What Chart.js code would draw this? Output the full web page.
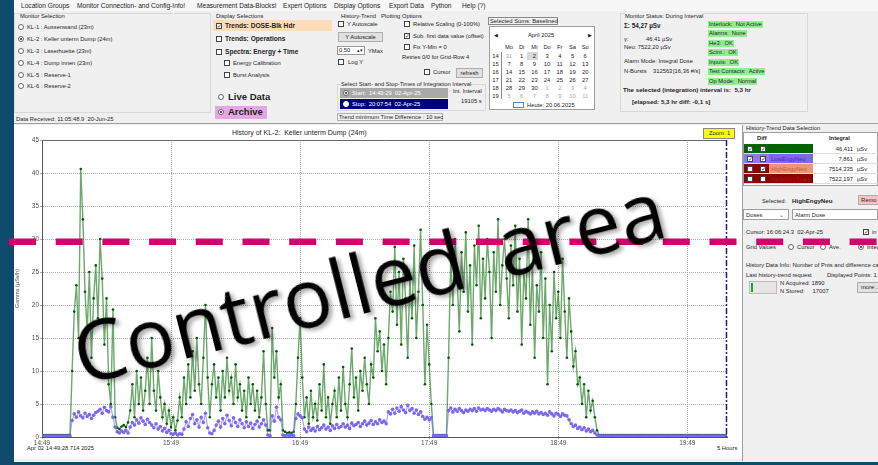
<!DOCTYPE html>
<html>
<head>
<meta charset="utf-8">
<script src="https://cdn.jsdelivr.net/npm/chart.js@4.4.1/dist/chart.umd.min.js"></script>
<style>
*{box-sizing:border-box}
body{margin:0;width:878px;height:465px;overflow:hidden;background:#0e4a6c;font-family:"Liberation Sans",Arial,sans-serif;color:#1e1e1e;position:relative}
.box{position:absolute}
.t{position:absolute;white-space:nowrap;font-size:5.8px;line-height:8px}
.m{font-size:6.6px}
.b{font-weight:bold}
.grp{position:absolute;border:1px solid #d8d8d8}
.cb{position:absolute;width:6px;height:6px;border:1px solid #444;background:#fff}
.cb.on::after{content:"\2713";position:absolute;left:0;top:-2px;font-size:6px;line-height:8px;color:#333}
.rb{position:absolute;width:6px;height:6px;border:1px solid #666;border-radius:50%;background:#fff}
.rb.on::after{content:"";position:absolute;left:1px;top:1px;width:2px;height:2px;border-radius:50%;background:#222}
.btn{position:absolute;border:1px solid #adadad;background:#e1e1e1;font-size:5.8px;text-align:center;white-space:nowrap}
.gb{position:absolute;background:#90ee90;font-size:5.8px;line-height:7px;height:7px;padding:0 1px;white-space:nowrap}
.cal{position:absolute;font-size:5.8px;line-height:8px;width:12px;text-align:center}
.gray{color:#a8a8a8}
#chart{position:absolute;left:0;top:0;z-index:2;pointer-events:none}
#stamp{position:absolute;z-index:3;font-family:"Open Sans",sans-serif;font-size:82px;line-height:82px;word-spacing:14px;color:#000;white-space:nowrap;text-shadow:3px 3px 4px rgba(0,0,0,0.35);transform-origin:0 73px;transform:rotate(-14.2deg)}
</style>
</head>
<body>
<!-- window frame -->
<div class="box" style="left:14px;top:0;width:864px;height:462px;background:#f0f0f0"></div>
<div class="box" style="left:14px;top:0;width:864px;height:11px;background:#f7f7f7"></div>
<div class="box" style="left:14px;top:123px;width:864px;height:1px;background:#a0a0a0"></div>

<!-- menu -->
<div class="t m" style="left:21px;top:2px">Location Groups</div>
<div class="t m" style="left:77px;top:2px">Monitor Connection- and Config-Info!</div>
<div class="t m" style="left:197px;top:2px">Measurement Data-Blocks!</div>
<div class="t m" style="left:283px;top:2px">Expert Options</div>
<div class="t m" style="left:334px;top:2px">Display Options</div>
<div class="t m" style="left:389px;top:2px">Export Data</div>
<div class="t m" style="left:431px;top:2px">Python</div>
<div class="t m" style="left:462px;top:2px">Help (?)</div>

<!-- monitor selection -->
<div class="grp" style="left:14px;top:13px;width:197px;height:100px"></div>
<div class="t" style="left:20px;top:12px">Monitor Selection</div>
<div class="rb" style="left:18px;top:24px"></div><div class="t" style="left:27px;top:23px">KL-1 : Aussenwand (23m)</div>
<div class="rb on" style="left:18px;top:36px"></div><div class="t" style="left:27px;top:35px">KL-2 : Keller unterm Dump (24m)</div>
<div class="rb" style="left:18px;top:48px"></div><div class="t" style="left:27px;top:47px">KL-3 : Laserhuette (23m)</div>
<div class="rb" style="left:18px;top:60px"></div><div class="t" style="left:27px;top:59px">KL-4 : Dump innen (23m)</div>
<div class="rb" style="left:18px;top:72px"></div><div class="t" style="left:27px;top:71px">KL-5 : Reserve-1</div>
<div class="rb" style="left:18px;top:83px"></div><div class="t" style="left:27px;top:82px">KL-6 : Reserve-2</div>
<div class="t" style="left:16px;top:115px">Data Received: 11:05:48.9&nbsp; 20-Jun-25</div>

<!-- display selections -->
<div class="t" style="left:216px;top:12px">Display Selections</div>
<div class="box" style="left:213px;top:20px;width:119px;height:11px;background:#fddcb8"></div>
<div class="cb on" style="left:216px;top:23px"></div><div class="t b" style="left:225px;top:22px;font-size:6.6px">Trends: DOSE-Blk Hdr</div>
<div class="cb" style="left:216px;top:36px"></div><div class="t b" style="left:225px;top:35px;font-size:6.6px">Trends: Operations</div>
<div class="cb" style="left:216px;top:49px"></div><div class="t b" style="left:225px;top:48px;font-size:6.6px">Spectra: Energy + Time</div>
<div class="cb" style="left:224px;top:60px"></div><div class="t" style="left:233px;top:59px">Energy Calibration</div>
<div class="cb" style="left:224px;top:72px"></div><div class="t" style="left:233px;top:71px">Burst Analysis</div>
<div class="rb" style="left:218px;top:94px"></div><div class="t b" style="left:228px;top:92px;font-size:9.5px;line-height:10px">Live Data</div>
<div class="box" style="left:215px;top:106px;width:52px;height:13px;background:#e4a6e4"></div>
<div class="rb on" style="left:218px;top:109px"></div><div class="t b" style="left:228px;top:107px;font-size:9.5px;line-height:10px">Archive</div>

<!-- history-trend plotting options -->
<div class="t" style="left:341px;top:12px">History-Trend</div>
<div class="t" style="left:381px;top:12px">Plotting Options</div>
<div class="cb" style="left:338px;top:21px"></div><div class="t" style="left:347px;top:20px">Y Autoscale</div>
<div class="btn" style="left:338px;top:32px;width:45px;height:10px;line-height:8px">Y Autoscale</div>
<div class="box" style="left:337px;top:46px;width:28px;height:9px;background:#fff;border:1px solid #999"></div>
<div class="t" style="left:339px;top:46px">0,50</div>
<div class="t" style="left:357px;top:46px;font-size:5px">&#9652;&#9662;</div>
<div class="t" style="left:368px;top:47px">YMax</div>
<div class="cb" style="left:338px;top:59px"></div><div class="t" style="left:348px;top:58px">Log Y</div>
<div class="cb" style="left:404px;top:21px"></div><div class="t" style="left:413px;top:20px">Relative Scaling (0-100%)</div>
<div class="cb on" style="left:404px;top:33px"></div><div class="t" style="left:413px;top:32px">Sub. first data value (offset)</div>
<div class="cb" style="left:404px;top:44px"></div><div class="t" style="left:413px;top:43px">Fix Y-Min = 0</div>
<div class="t" style="left:402px;top:53px">Retries 0/0 for Grid-Row 4</div>
<div class="cb" style="left:424px;top:69px"></div><div class="t" style="left:433px;top:68px">Cursor</div>
<div class="btn" style="left:456px;top:68px;width:27px;height:10px;line-height:8px">refresh</div>
<div class="grp" style="left:337px;top:84px;width:149px;height:27px"></div>
<div class="t" style="left:341px;top:80px;background:#f0f0f0">Select Start- and Stop-Times of Integration Interval</div>
<div class="box" style="left:340px;top:88px;width:108px;height:10px;background:#a9a9a9"></div>
<div class="rb on" style="left:343px;top:90px"></div><div class="t" style="left:352px;top:89px;color:#fff">Start:&nbsp; 14:49:29&nbsp; 02-Apr-25</div>
<div class="box" style="left:340px;top:99px;width:108px;height:10px;background:#00007f"></div>
<div class="rb" style="left:343px;top:101px;border-color:#fff"></div><div class="t" style="left:352px;top:100px;color:#fff">Stop:&nbsp; 20:07:54&nbsp; 02-Apr-25</div>
<div class="t" style="left:453px;top:87px">Int. Interval</div>
<div class="t" style="left:461px;top:97px">19105 s</div>
<div class="box" style="left:337px;top:113px;width:106px;height:8px;border:1px solid #b0b0b0"></div>
<div class="t" style="left:339px;top:113px">Trend minimum Time Difference : 10 sec</div>

<!-- calendar -->
<div class="box" style="left:488px;top:17px;width:70px;height:8px;border:1px solid #888"></div>
<div class="t" style="left:490px;top:17px;line-height:8px">Selected Sums: Baselined</div>
<div class="box" style="left:489px;top:26px;width:106px;height:84px;background:#fff;border:1px solid #a0a0a0"></div>
<div class="t" style="left:494px;top:31px;font-size:5px">&#9664;</div>
<div class="t" style="left:528px;top:31px">April 2025</div>
<div class="t" style="left:588px;top:31px;font-size:5px">&#9654;</div>
<div class="box" style="left:501px;top:52px;width:1px;height:47px;background:#888"></div>
<div class="box" style="left:527px;top:52px;width:11px;height:8px;background:#d8d8d8"></div>
<div id="cal"></div>
<div class="box" style="left:513px;top:102px;width:11px;height:6px;border:1px solid #5a8ad0"></div>
<div class="t" style="left:527px;top:101px">Heute: 20.06.2025</div>

<!-- monitor status -->
<div class="grp" style="left:620px;top:13px;width:188px;height:99px"></div>
<div class="t" style="left:625px;top:12px;background:#f0f0f0">Monitor Status: During Interval</div>
<div class="t b" style="left:624px;top:22px;font-size:6.3px">&Sigma;: 54,27 &micro;Sv</div>
<div class="t" style="left:624px;top:35px">&gamma;:</div><div class="t" style="left:646px;top:35px">46,41 &micro;Sv</div>
<div class="t" style="left:624px;top:43px">Neu: 7522,20 &micro;Sv</div>
<div class="t" style="left:624px;top:57px">Alarm Mode: Integral Dose</div>
<div class="t" style="left:624px;top:67px">N-Bursts</div><div class="t" style="left:653px;top:67px">312563</div><div class="t" style="left:673px;top:67px">[16,36 #/s]</div>
<div class="gb" style="left:708px;top:21px">Interlock:&nbsp; Not Active</div>
<div class="gb" style="left:708px;top:30px">Alarms:&nbsp; None</div>
<div class="gb" style="left:708px;top:40px">He3:&nbsp; OK</div>
<div class="gb" style="left:708px;top:49px">Scint.:&nbsp; OK</div>
<div class="gb" style="left:708px;top:59px">Inputs:&nbsp; OK</div>
<div class="gb" style="left:708px;top:68px">Test Contacts:&nbsp; Active</div>
<div class="gb" style="left:708px;top:78px">Op Mode:&nbsp; Normal</div>
<div class="t b" style="left:623px;top:86px;font-size:6.2px">The selected (integration) interval is:&nbsp; 5,3 hr</div>
<div class="t b" style="left:632px;top:98px;font-size:6.2px">[elapsed: 5,3 hr diff: -0,1 s]</div>

<!-- chart panel -->
<div class="box" style="left:14px;top:125px;width:728px;height:334px;background:#fff"></div>
<div class="t" style="left:232px;top:129px;font-size:7px">History of KL-2:&nbsp; Keller unterm Dump (24m)</div>
<div class="box" style="left:703px;top:128px;width:32px;height:11px;background:#ffff00;border:1px solid #888"></div>
<div class="t" style="left:709px;top:129px">Zoom: 1</div>
<div class="t" style="left:27px;top:444px">Apr 02 14:49:28.714 2025</div>
<div class="t" style="left:717px;top:444px">5 Hours</div>

<!-- right panel -->
<div class="box" style="left:742px;top:125px;width:136px;height:336px;background:#f0f0f0;border-left:1px solid #a0a0a0"></div>
<div class="t" style="left:746px;top:124px">History-Trend Data Selection</div>
<div class="box" style="left:743px;top:132px;width:135px;height:54px;background:#fff;border:1px solid #a0a0a0"></div>
<div class="t b" style="left:757px;top:134px">Diff</div>
<div class="t b" style="left:829px;top:134px">Integral</div>
<div id="tbl"></div>
<div class="t" style="left:762px;top:197px">Selected:</div>
<div class="t b" style="left:792px;top:197px;font-size:6.2px">HighEngyNeu</div>
<div class="btn" style="left:858px;top:195px;width:22px;height:10px;line-height:8px;background:#f6c4c4;text-align:left;padding-left:2px">Remo</div>
<div class="box" style="left:743px;top:209px;width:46px;height:11px;background:#fff;border:1px solid #a0a0a0"></div>
<div class="t" style="left:746px;top:211px">Doses</div>
<div class="t" style="left:779px;top:211px;color:#666">&#8964;</div>
<div class="box" style="left:792px;top:209px;width:86px;height:11px;background:#fff;border:1px solid #a0a0a0"></div>
<div class="t" style="left:795px;top:211px">Alarm Dose</div>
<div class="t" style="left:746px;top:228px">Cursor: 16:06:24.3&nbsp; 02-Apr-25</div>
<div class="cb on" style="left:863px;top:229px"></div><div class="t" style="left:872px;top:228px">in</div>
<div class="t" style="left:746px;top:243px">Grid Values</div>
<div class="rb" style="left:788px;top:244px"></div><div class="t" style="left:797px;top:243px">Cursor</div>
<div class="rb" style="left:820px;top:244px"></div><div class="t" style="left:829px;top:243px">Ave.</div>
<div class="rb on" style="left:858px;top:244px"></div><div class="t" style="left:867px;top:243px">Integ</div>
<div class="t" style="left:746px;top:261px">History Data Info: Number of Pnts and difference cal</div>
<div class="t" style="left:746px;top:271px">Last history-trend request</div>
<div class="t" style="left:827px;top:271px">Displayed Points: 1</div>
<div class="box" style="left:749px;top:281px;width:28px;height:13px;background:#e6e6e6;border:1px solid #bcbcbc"></div>
<div class="box" style="left:751px;top:283px;width:2px;height:9px;background:#06b025"></div>
<div class="t" style="left:780px;top:279px">N Acquired: 1890</div>
<div class="t" style="left:780px;top:287px">N Stored:&nbsp;&nbsp;&nbsp;&nbsp; 17007</div>
<div class="btn" style="left:857px;top:282px;width:22px;height:11px;line-height:9px;text-align:left;padding-left:3px">more ...</div>

<canvas id="chart" width="878" height="465"></canvas>
<div id="stamp" style="left:82px;top:312px">Controlled area</div>

<script>
// ── data ───────────────────────────────────────────────────────────────
const startStamp   = "Apr 02 14:49:28.714 2025";
const spanMinutes  = 318.43;              // 14:49:28 → 20:07:54
const sampleStepMin = 1;                  // one reading per minute (from start)
const xTickMinutes = [0, 60, 120, 180, 240, 300];
const xTickLabels  = ["14:49", "15:49", "16:49", "17:49", "18:49", "19:49"];
const yMin = 0, yMax = 45, yStep = 5;
const controlledLevel = 29.6;             // µSv/h, dashed "controlled area" line

// Gamma (µSv/h), minute by minute
const gamma = [
  0.3,0.3,0.3,0.3,0.3,0.3,0.3,0.3,0.3,0.3,
  0.3,0.3,0.3,0.3,10,19,23,15,40.6,33,
  22,16,25,12,21,26,18,30,24,14,
  21,8,5,19.3,3,1.4,1.2,1.6,1.8,1.5,
  2.2,4,8,3,10,5,9,4,7,12,
  5,15,7,4,10,6,3,5,2,4,
  1.5,3,1,2.5,6,3,9,5,11,6,
  13,7,15,8,5,12,20,9,3,8,
  11,6,9,4,10,6,12,7,9,5,
  11,6,8,4,7,3,9,5,8,4,
  7,3,6,13,5,1,1,16.5,9,13,
  6,8,1,0.8,0.6,0.7,0.6,0.8,5,12,
  18,9,3,6,2,7,3,5,2.5,8,
  4,11,3,6,2,5,7,3,9,4,
  10.6,5,3,8,13.4,6,9,4,10,7,
  12,8,5,11,9,18,13,16,10,14,
  8,15,22,19,28.8,17,25,14,27,21,
  12,24,18,29,15,22,31.4,20,8,17,
  11,5,0.3,0.3,0.3,0.3,0.3,0.3,0.3,12,
  27,20,30,24,16,28,22,31,19,26,
  14,29,23,32,18,27,21,30,25,15,
  28,22,33,20,26,30,24,18,29,23,
  32,19,27,14,25,21,33,17,26,12,
  23,19,28,15,24,8,20,13,25,18,
  22,15,27,19,12,21,16,10.7,13,8,
  9,5,8,3,7,4,5.5,3,1,0.3,
  0.3,0.3,0.3,0.3,0.3,0.3,0.3,0.3,0.3,0.3,
  0.3,0.3,0.3,0.3,0.3,0.3,0.3,0.3,0.3,0.3,
  0.3,0.3,0.3,0.3,0.3,0.3,0.3,0.3,0.3,0.3,
  0.3,0.3,0.3,0.3,0.3,0.3,0.3,0.3,0.3,0.3,
  0.3,0.3,0.3,0.3,0.3,0.3,0.3,0.3,0.3,0.3,
  0.3,0.3,0.3,0.3,0.3,0.3,0.3,0.3,0.3
];

// LowEngyNeu, minute by minute
const lowEngyNeu = [
  0.15,0.15,0.15,0.15,0.15,0.15,0.15,0.15,0.15,0.15,
  0.15,0.15,0.15,0.15,2.5,3.5,3.0,3.8,3.2,2.9,
  3.6,3.1,3.4,2.8,3.3,3.7,3.9,4.2,3.6,4.5,
  4.0,3.8,4.6,3.0,1.5,0.8,0.6,0.9,0.7,1.0,
  0.6,1.5,2.2,1.8,2.6,2.1,2.9,2.4,1.9,2.7,
  2.2,1.8,1.4,2.0,1.2,1.6,0.9,1.3,0.7,1.0,
  0.5,0.4,0.6,0.3,0.5,0.4,1.2,2.3,1.6,2.8,
  3.4,2.0,2.6,1.5,3.0,2.2,3.6,1.4,0.6,0.5,
  1.0,1.8,2.4,1.5,2.8,2.0,3.3,2.5,1.7,2.9,
  2.2,1.6,2.6,2.0,1.4,2.3,1.6,2.1,1.3,1.9,
  2.4,1.5,2.0,2.6,1.8,0.3,0.2,3.2,2.4,4.5,
  3.0,2.6,0.3,0.2,0.3,0.2,0.3,0.2,2.8,3.5,
  3.2,2.9,1.2,0.8,1.5,1.0,1.3,0.9,1.6,1.1,
  1.4,1.8,1.2,1.5,1.0,1.7,1.3,1.9,1.4,1.6,
  2.0,1.5,1.8,1.3,2.1,1.7,1.9,2.2,1.6,2.0,
  2.4,1.8,2.1,2.5,1.9,2.3,2.0,2.6,2.2,2.4,
  2.0,3.8,3.5,4.2,3.6,4.4,3.9,4.6,4.1,3.7,
  4.8,4.0,4.3,3.6,4.1,3.4,3.8,3.1,2.7,3.0,
  2.6,2.9,0.2,0.2,0.2,0.2,0.2,0.2,0.2,4.0,
  4.4,3.8,4.2,3.9,4.3,4.0,3.7,4.1,3.9,4.2,
  4.0,4.3,3.9,4.4,4.1,4.2,4.0,4.3,4.1,3.9,
  4.2,4.0,4.3,4.1,3.8,4.2,4.0,3.9,4.1,3.8,
  4.0,3.7,3.9,4.1,3.6,3.9,3.7,3.5,3.8,3.6,
  3.9,3.5,3.7,3.4,3.6,3.3,3.8,3.5,3.2,3.6,
  3.4,3.1,3.5,3.3,3.2,2.6,2.0,1.6,1.8,1.3,
  1.5,1.1,1.4,0.9,1.2,0.8,1.0,0.6,0.3,0.15,
  0.15,0.15,0.15,0.15,0.15,0.15,0.15,0.15,0.15,0.15,
  0.15,0.15,0.15,0.15,0.15,0.15,0.15,0.15,0.15,0.15,
  0.15,0.15,0.15,0.15,0.15,0.15,0.15,0.15,0.15,0.15,
  0.15,0.15,0.15,0.15,0.15,0.15,0.15,0.15,0.15,0.15,
  0.15,0.15,0.15,0.15,0.15,0.15,0.15,0.15,0.15,0.15,
  0.15,0.15,0.15,0.15,0.15,0.15,0.15,0.15,0.15
];

// calendar (April 2025)
const calWeeks  = [14, 15, 16, 17, 18, 19];
const calDays   = [
  [31,1,2,3,4,5,6],[7,8,9,10,11,12,13],[14,15,16,17,18,19,20],
  [21,22,23,24,25,26,27],[28,29,30,1,2,3,4],[5,6,7,8,9,10,11]
];
const calDayNames = ["Mo","Di","Mi","Do","Fr","Sa","So"];

// trend table
const trendNames  = ["Gamma", "LowEngyNeu", "HighEngyNeu", "Neutron (Total)"];
const trendValues = ["46,411", "7,861", "7514,335", "7522,197"];
const trendShow   = [true, true, false, false];
const trendDiff   = [true, true, true, false];

// ── static widgets ────────────────────────────────────────────────────
const $ = id => document.getElementById(id);
(function buildCalendar() {
  let h = "";
  const colX = i => 503 + i * 12.7;
  calDayNames.forEach((d, i) => h += `<div class="cal" style="left:${colX(i)}px;top:43px">${d}</div>`);
  calWeeks.forEach((w, r) => {
    const y = 52 + r * 7.9;
    h += `<div class="cal" style="left:490px;top:${y}px;width:11px">${w}</div>`;
    calDays[r].forEach((d, i) => {
      const other = (r === 0 && d > 7) || (r >= 4 && d < 20);
      h += `<div class="cal${other ? " gray" : ""}" style="left:${colX(i)}px;top:${y}px">${d}</div>`;
    });
  });
  $("cal").innerHTML = h;
})();

(function buildTable() {
  const bg   = ["#006400", "#7b68ee", "#e9967a", "#8b0000"];
  const side = ["#006400", "#8a7af0", "#8b0000", "#8b0000"];
  const fg   = ["#1c5a1c", "#3b30b8", "#c2603e", "#b81818"];
  let h = "";
  trendNames.forEach((n, r) => {
    const y = 144 + r * 10;
    h += `<div class="box" style="left:744px;top:${y}px;width:25px;height:10px;background:${side[r]}"></div>`;
    h += `<div class="cb${trendShow[r] ? " on" : ""}" style="left:747px;top:${y + 2}px"></div>`;
    h += `<div class="cb${trendDiff[r] ? " on" : ""}" style="left:760px;top:${y + 2}px"></div>`;
    h += `<div class="box" style="left:769px;top:${y}px;width:44px;height:10px;background:${bg[r]}"></div>`;
    h += `<div class="t" style="left:771px;top:${y + 1}px;color:${fg[r]}">${n}</div>`;
    h += `<div class="t" style="left:813px;top:${y + 1}px;width:40px;text-align:right">${trendValues[r]}</div>`;
    h += `<div class="t" style="left:857px;top:${y + 1}px">&micro;Sv</div>`;
    h += `<div class="box" style="left:744px;top:${y + 9}px;width:134px;height:1px;background:#ddd"></div>`;
  });
  $("tbl").innerHTML = h;
})();

// ── chart ─────────────────────────────────────────────────────────────
const toPts = arr => arr.map((v, i) => ({ x: i * sampleStepMin, y: v }));

const overlay = {
  id: "overlay",
  afterDatasetsDraw(chart) {
    const { ctx, chartArea: a, scales: { x } } = chart;
    ctx.save();
    // top frame
    ctx.strokeStyle = "#6a6a6a"; ctx.lineWidth = 1;
    ctx.beginPath(); ctx.moveTo(a.left, a.top + 0.5); ctx.lineTo(a.right, a.top + 0.5); ctx.stroke();
    // stop-time marker
    const sx = Math.round(x.getPixelForValue(spanMinutes)) - 0.5;
    ctx.strokeStyle = "#1c1c8c"; ctx.lineWidth = 1.5; ctx.setLineDash([6, 2, 2, 2]);
    ctx.beginPath(); ctx.moveTo(sx, a.top); ctx.lineTo(sx, a.bottom); ctx.stroke();
    ctx.restore();
  },
  afterDraw(chart) {
    const { ctx, scales: { y } } = chart;
    const yy = y.getPixelForValue(controlledLevel);
    ctx.save();
    ctx.strokeStyle = "#d4006e"; ctx.lineWidth = 6.5; ctx.setLineDash([27, 19.7]);
    ctx.beginPath(); ctx.moveTo(9, yy); ctx.lineTo(878, yy); ctx.stroke();
    ctx.restore();
  }
};

new Chart($("chart").getContext("2d"), {
  type: "line",
  data: {
    datasets: [
      { label: "LowEngyNeu", data: toPts(lowEngyNeu),
        borderColor: "rgba(123,104,238,0.6)", borderWidth: 1.2,
        pointRadius: 1.8, pointBackgroundColor: "#7b68ee", pointBorderWidth: 0, order: 1 },
      { label: "Gamma", data: toPts(gamma),
        borderColor: "rgba(20,115,20,0.62)", borderWidth: 1.4,
        pointRadius: 1.3, pointBackgroundColor: "#005c00", pointBorderWidth: 0, order: 2 },
    ],
  },
  options: {
    responsive: false, animation: false, devicePixelRatio: 1,
    layout: { padding: { left: 0, right: 151, top: 140, bottom: 0 } },
    plugins: { legend: { display: false }, tooltip: { enabled: false } },
    scales: {
      x: {
        type: "linear", min: 0, max: spanMinutes,
        afterBuildTicks: s => { s.ticks = xTickMinutes.map(v => ({ value: v })); },
        afterFit: s => { s.height = 28; },
        ticks: { callback: v => xTickLabels[xTickMinutes.indexOf(v)], font: { size: 6.5, family: "Liberation Sans" },
                 color: "#555", padding: 0, maxRotation: 0 },
        grid: { color: "#a8a8a8", tickLength: 2 },
        border: { color: "#555", dash: [1, 1] },
      },
      y: {
        min: yMin, max: yMax,
        afterFit: s => { s.width = 42; },
        ticks: { stepSize: yStep, font: { size: 6.5, family: "Liberation Sans" }, color: "#555", padding: 1 },
        grid: { color: "#a8a8a8", tickLength: 2 },
        border: { color: "#555", dash: [1, 1] },
        title: { display: true, text: "Gamma (µSv/h)", font: { size: 5.5, family: "Liberation Sans" }, color: "#555",
                 padding: { top: 14, bottom: 0 } },
      },
    },
  },
  plugins: [overlay],
});
</script>
</body>
</html>
